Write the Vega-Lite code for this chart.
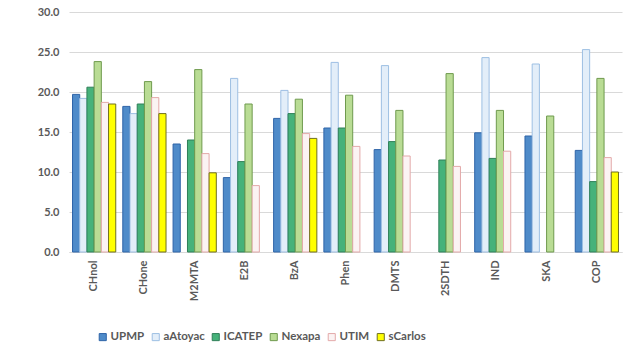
{
  "$schema": "https://vega.github.io/schema/vega-lite/v6.json",
  "autosize": {"type": "none"},
  "padding": {"left": 69, "top": 12, "right": 5, "bottom": 101},
  "width": 553,
  "height": 240,
  "config": {
    "font": "Lato",
    "view": {"stroke": null},
    "axis": {"labelColor": "#595959", "labelFont": "Lato", "labelFontSize": 11, "labelFontWeight": "bold"},
    "legend": {"labelColor": "#595959", "labelFont": "Lato", "labelFontSize": 11.5, "labelFontWeight": "bold"}
  },
  "data": {"values": [
    {"c": "CHnol", "s": "UPMP", "v": 19.7}, {"c": "CHnol", "s": "aAtoyac", "v": 19.2}, {"c": "CHnol", "s": "ICATEP", "v": 20.6}, {"c": "CHnol", "s": "Nexapa", "v": 23.8}, {"c": "CHnol", "s": "UTIM", "v": 18.7}, {"c": "CHnol", "s": "sCarlos", "v": 18.5},
    {"c": "CHone", "s": "UPMP", "v": 18.2}, {"c": "CHone", "s": "aAtoyac", "v": 17.3}, {"c": "CHone", "s": "ICATEP", "v": 18.5}, {"c": "CHone", "s": "Nexapa", "v": 21.3}, {"c": "CHone", "s": "UTIM", "v": 19.3}, {"c": "CHone", "s": "sCarlos", "v": 17.3},
    {"c": "M2MTA", "s": "UPMP", "v": 13.5}, {"c": "M2MTA", "s": "ICATEP", "v": 14.0}, {"c": "M2MTA", "s": "Nexapa", "v": 22.8}, {"c": "M2MTA", "s": "UTIM", "v": 12.3}, {"c": "M2MTA", "s": "sCarlos", "v": 9.9},
    {"c": "E2B", "s": "UPMP", "v": 9.3}, {"c": "E2B", "s": "aAtoyac", "v": 21.7}, {"c": "E2B", "s": "ICATEP", "v": 11.3}, {"c": "E2B", "s": "Nexapa", "v": 18.5}, {"c": "E2B", "s": "UTIM", "v": 8.3},
    {"c": "BzA", "s": "UPMP", "v": 16.7}, {"c": "BzA", "s": "aAtoyac", "v": 20.2}, {"c": "BzA", "s": "ICATEP", "v": 17.3}, {"c": "BzA", "s": "Nexapa", "v": 19.1}, {"c": "BzA", "s": "UTIM", "v": 14.8}, {"c": "BzA", "s": "sCarlos", "v": 14.2},
    {"c": "Phen", "s": "UPMP", "v": 15.5}, {"c": "Phen", "s": "aAtoyac", "v": 23.7}, {"c": "Phen", "s": "ICATEP", "v": 15.5}, {"c": "Phen", "s": "Nexapa", "v": 19.6}, {"c": "Phen", "s": "UTIM", "v": 13.2},
    {"c": "DMTS", "s": "UPMP", "v": 12.8}, {"c": "DMTS", "s": "aAtoyac", "v": 23.3}, {"c": "DMTS", "s": "ICATEP", "v": 13.8}, {"c": "DMTS", "s": "Nexapa", "v": 17.7}, {"c": "DMTS", "s": "UTIM", "v": 12.0},
    {"c": "2SDTH", "s": "ICATEP", "v": 11.5}, {"c": "2SDTH", "s": "Nexapa", "v": 22.3}, {"c": "2SDTH", "s": "UTIM", "v": 10.7},
    {"c": "IND", "s": "UPMP", "v": 14.9}, {"c": "IND", "s": "aAtoyac", "v": 24.3}, {"c": "IND", "s": "ICATEP", "v": 11.7}, {"c": "IND", "s": "Nexapa", "v": 17.7}, {"c": "IND", "s": "UTIM", "v": 12.6},
    {"c": "SKA", "s": "UPMP", "v": 14.5}, {"c": "SKA", "s": "aAtoyac", "v": 23.5}, {"c": "SKA", "s": "Nexapa", "v": 17.0},
    {"c": "COP", "s": "UPMP", "v": 12.7}, {"c": "COP", "s": "aAtoyac", "v": 25.3}, {"c": "COP", "s": "ICATEP", "v": 8.8}, {"c": "COP", "s": "Nexapa", "v": 21.7}, {"c": "COP", "s": "UTIM", "v": 11.8}, {"c": "COP", "s": "sCarlos", "v": 10.0}
  ]},
  "mark": {"type": "bar", "strokeWidth": 1},
  "encoding": {
    "x": {
      "field": "c", "type": "nominal",
      "sort": ["CHnol", "CHone", "M2MTA", "E2B", "BzA", "Phen", "DMTS", "2SDTH", "IND", "SKA", "COP"],
      "scale": {"paddingInner": 0.14, "paddingOuter": 0.07},
      "axis": {"title": null, "labelAngle": -90, "ticks": false, "domainColor": "#d9d9d9", "labelPadding": 8}
    },
    "xOffset": {
      "field": "s", "type": "nominal",
      "sort": ["UPMP", "aAtoyac", "ICATEP", "Nexapa", "UTIM", "sCarlos"]
    },
    "y": {
      "field": "v", "type": "quantitative",
      "scale": {"domain": [0, 30]},
      "axis": {"title": null, "format": ".1f", "values": [0, 5, 10, 15, 20, 25, 30], "domain": false, "ticks": false, "gridColor": "#d9d9d9", "labelPadding": 10}
    },
    "fill": {
      "field": "s", "type": "nominal",
      "sort": ["UPMP", "aAtoyac", "ICATEP", "Nexapa", "UTIM", "sCarlos"],
      "scale": {"domain": ["UPMP", "aAtoyac", "ICATEP", "Nexapa", "UTIM", "sCarlos"], "range": ["#4f8bc9", "#e3eef9", "#46b27a", "#b9dc94", "#fbf3f3", "#ffff00"]},
      "legend": {"title": null, "orient": "none", "legendX": 28, "legendY": 319, "direction": "horizontal", "symbolType": "square", "symbolSize": 50, "symbolStrokeWidth": 1, "labelOffset": 2, "columnPadding": 5}
    },
    "stroke": {
      "field": "s", "type": "nominal",
      "scale": {"domain": ["UPMP", "aAtoyac", "ICATEP", "Nexapa", "UTIM", "sCarlos"], "range": ["#2e64a8", "#9dbfe3", "#2f7f58", "#6f9a4e", "#e3a9a9", "#6f6f20"]},
      "legend": null
    }
  }
}
